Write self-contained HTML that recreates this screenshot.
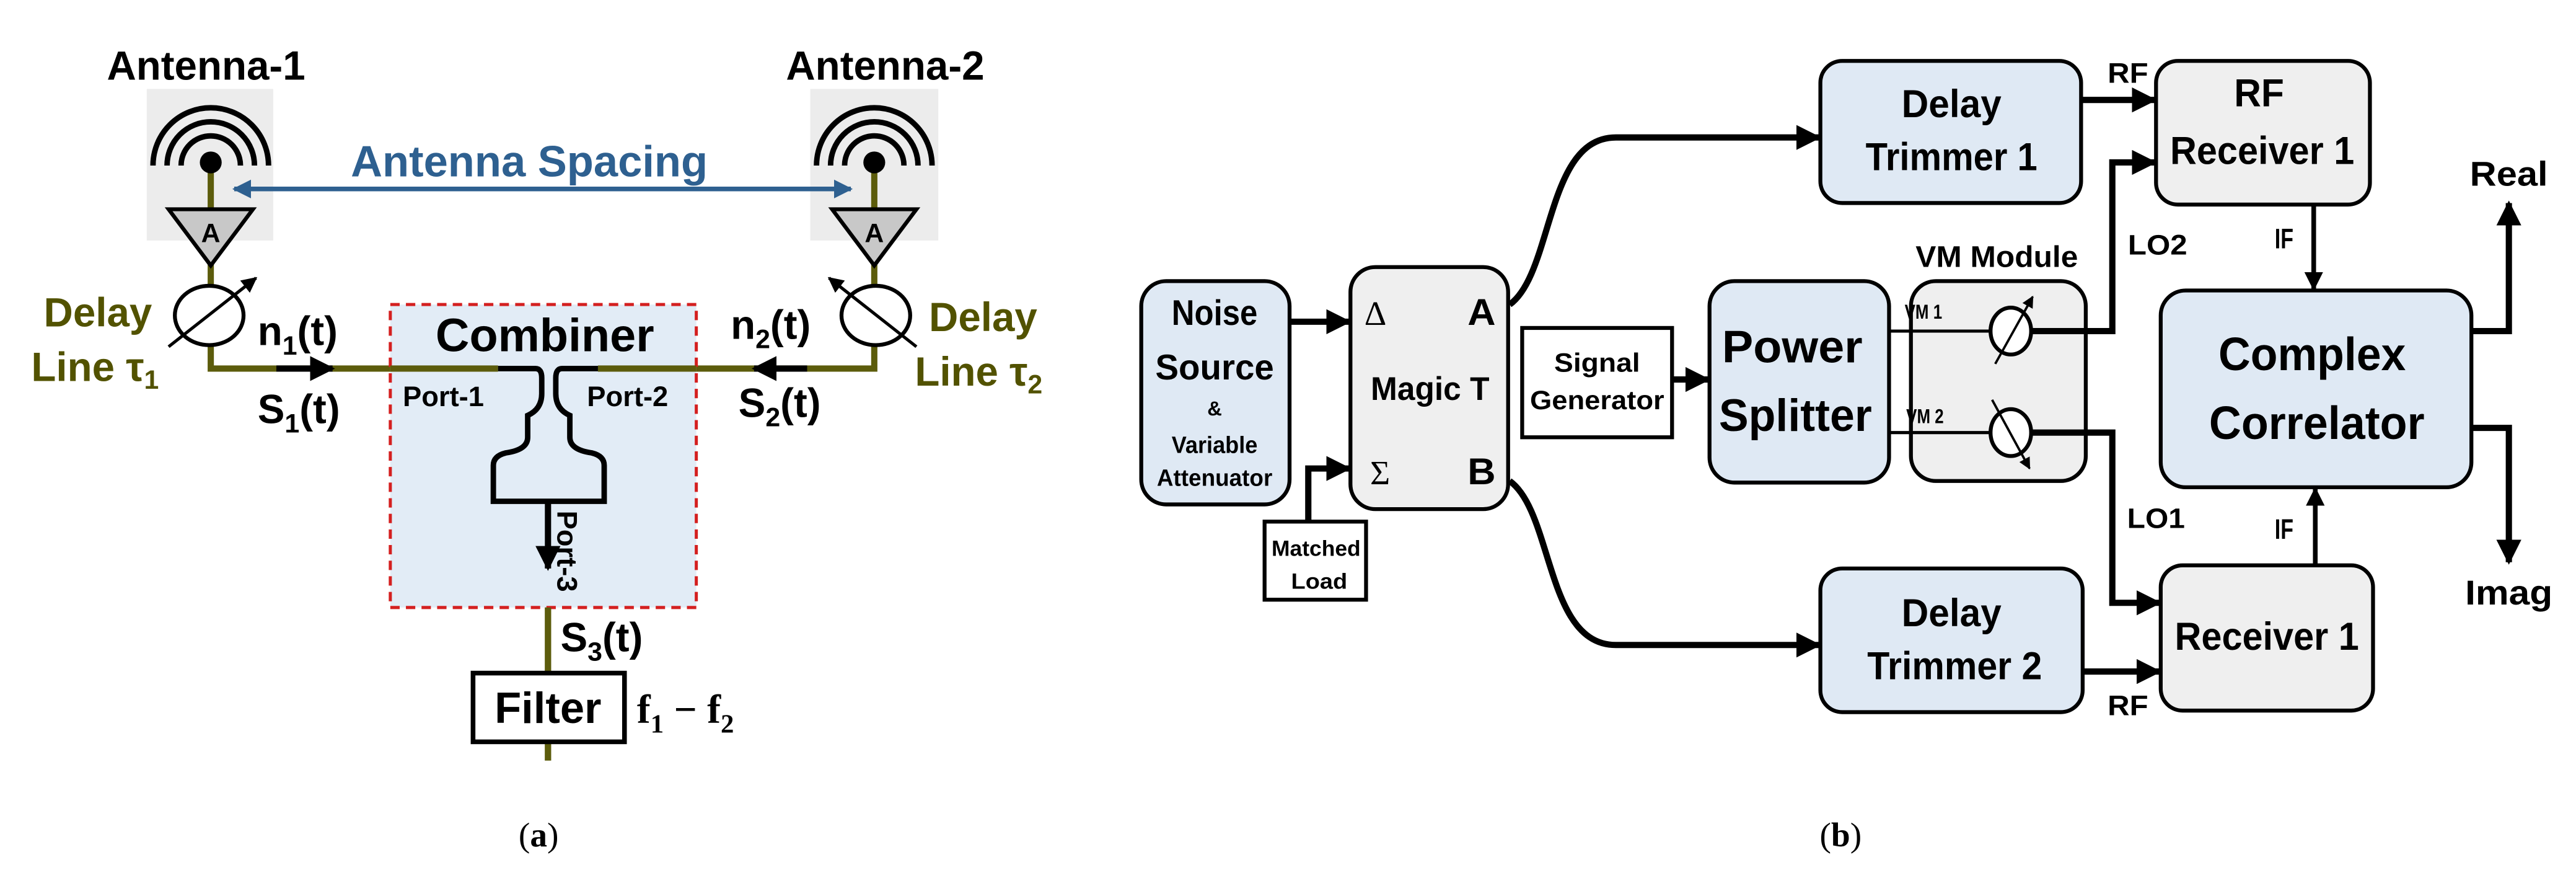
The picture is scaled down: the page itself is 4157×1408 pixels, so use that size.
<!DOCTYPE html>
<html><head><meta charset="utf-8"><style>
html,body{margin:0;padding:0;background:#fff;}
svg{display:block;}
text{font-family:"Liberation Sans",Arial,sans-serif;}
.b{font-weight:bold;}
.ol{fill:#525200;}
</style></head><body>
<svg width="4157" height="1408" viewBox="0 0 1650 559" preserveAspectRatio="none" xmlns="http://www.w3.org/2000/svg">
<defs>
<marker id="ah" viewBox="0 0 10 10" refX="9" refY="5" markerWidth="4" markerHeight="4" orient="auto" markerUnits="strokeWidth"><path d="M0,0 L10,5 L0,10 z" fill="#000"/></marker>
<marker id="ahb" viewBox="0 0 10 10" refX="9" refY="5" markerWidth="4" markerHeight="4" orient="auto-start-reverse" markerUnits="strokeWidth"><path d="M0,0 L10,5 L0,10 z" fill="#2e6090"/></marker>
<marker id="as" viewBox="0 0 10 10" refX="9" refY="5" markerWidth="5" markerHeight="5" orient="auto" markerUnits="strokeWidth"><path d="M0,0 L10,5 L0,10 z" fill="#000"/></marker>
</defs>

<!-- ===== Panel (a) ===== -->
<text x="132" y="51" class="b" font-size="26" text-anchor="middle">Antenna-1</text>
<text x="567" y="51" class="b" font-size="26" text-anchor="middle">Antenna-2</text>

<rect x="94" y="57" width="81" height="97" fill="#ececec"/>
<rect x="519" y="57" width="82" height="97" fill="#ececec"/>

<g fill="none" stroke="#000" stroke-width="3.5">
<path d="M116,106 A19,19 0 0 1 154,106"/>
<path d="M107,106 A28,28 0 0 1 163,106"/>
<path d="M98,106 A37,37 0 0 1 172,106"/>
<path d="M541,106 A19,19 0 0 1 579,106"/>
<path d="M532,106 A28,28 0 0 1 588,106"/>
<path d="M523,106 A37,37 0 0 1 597,106"/>
</g>

<g stroke="#5c5c0c" stroke-width="4" fill="none">
<path d="M135,104 V236 H319"/>
<path d="M560,104 V236 H383"/>
<path d="M351,321 V487"/>
</g>
<circle cx="135" cy="104" r="7" fill="#000"/>
<circle cx="560" cy="104" r="7" fill="#000"/>

<path d="M108,134 H162 L135,170 Z" fill="#c8c8c8" stroke="#000" stroke-width="2.5"/>
<text x="135" y="155" class="b" font-size="17" text-anchor="middle">A</text>
<path d="M533,134 H587 L560,170 Z" fill="#c8c8c8" stroke="#000" stroke-width="2.5"/>
<text x="560" y="155" class="b" font-size="17" text-anchor="middle">A</text>

<ellipse cx="134" cy="202" rx="22" ry="19" fill="#fff" stroke="#000" stroke-width="2.5"/>
<line x1="108" y1="222" x2="164" y2="178" stroke="#000" stroke-width="2" marker-end="url(#as)"/>
<ellipse cx="561" cy="202" rx="22" ry="19" fill="#fff" stroke="#000" stroke-width="2.5"/>
<line x1="587" y1="222" x2="531" y2="178" stroke="#000" stroke-width="2" marker-end="url(#as)"/>

<text x="28" y="209" class="b ol" font-size="26">Delay</text>
<text x="20" y="244" class="b ol" font-size="26">Line τ<tspan font-size="17" dy="5">1</tspan></text>
<text x="595" y="212" class="b ol" font-size="26">Delay</text>
<text x="586" y="247" class="b ol" font-size="26">Line τ<tspan font-size="17" dy="5">2</tspan></text>

<line x1="150" y1="121" x2="545" y2="121" stroke="#2e6090" stroke-width="3" marker-start="url(#ahb)" marker-end="url(#ahb)"/>
<text x="339" y="113" class="b" font-size="28" fill="#2e6090" text-anchor="middle">Antenna Spacing</text>

<rect x="250" y="195" width="196" height="194" fill="#e2ecf6" stroke="#d42020" stroke-width="2" stroke-dasharray="6,4"/>
<g stroke="#5c5c0c" stroke-width="4" fill="none"><path d="M250,236 H319"/><path d="M446,236 H383"/><path d="M351,389 V487"/></g>
<text x="349" y="225" class="b" font-size="30" text-anchor="middle">Combiner</text>
<text x="258" y="260" class="b" font-size="18">Port-1</text>
<text x="376" y="260" class="b" font-size="18">Port-2</text>
<path d="M319,236 H343 Q347,236 347,242 V252 Q347,262 338,266 V280 Q338,288 324,290 Q316,292 316,298 V321 H387 V298 Q387,292 379,290 Q365,288 365,280 V266 Q356,262 356,252 V242 Q356,236 360,236 H383" fill="none" stroke="#000" stroke-width="3.5"/>
<line x1="351" y1="321" x2="351" y2="364" stroke="#000" stroke-width="4" marker-end="url(#ah)"/>
<text transform="translate(357,327) rotate(90)" class="b" font-size="18">Port-3</text>

<line x1="177" y1="236" x2="213" y2="236" stroke="#000" stroke-width="4" marker-end="url(#ah)"/>
<line x1="517" y1="236" x2="483" y2="236" stroke="#000" stroke-width="4" marker-end="url(#ah)"/>

<text x="165" y="221" class="b" font-size="26">n<tspan font-size="17" dy="6">1</tspan><tspan dy="-6">(t)</tspan></text>
<text x="165" y="271" class="b" font-size="26">S<tspan font-size="17" dy="6">1</tspan><tspan dy="-6">(t)</tspan></text>
<text x="468" y="217" class="b" font-size="26">n<tspan font-size="17" dy="6">2</tspan><tspan dy="-6">(t)</tspan></text>
<text x="473" y="267" class="b" font-size="26">S<tspan font-size="17" dy="6">2</tspan><tspan dy="-6">(t)</tspan></text>
<text x="359" y="417" class="b" font-size="26">S<tspan font-size="17" dy="6">3</tspan><tspan dy="-6">(t)</tspan></text>

<rect x="303" y="431" width="97" height="44" fill="#fff" stroke="#000" stroke-width="3"/>
<text x="351" y="463" class="b" font-size="28" text-anchor="middle">Filter</text>
<text x="408" y="463" font-size="26" font-weight="bold" style="font-family:'Liberation Serif',serif">f<tspan font-size="17" dy="6">1</tspan><tspan dy="-6"> − f</tspan><tspan font-size="17" dy="6">2</tspan></text>

<text x="345" y="542" font-size="22" text-anchor="middle" style="font-family:'Liberation Serif',serif">(<tspan font-weight="bold">a</tspan>)</text>

<!-- ===== Panel (b) ===== -->
<g stroke="#000" stroke-width="2.5">
<rect x="731" y="180" width="95" height="143" rx="16" fill="#dfe9f4"/>
<rect x="865" y="171" width="101" height="155" rx="16" fill="#efefef"/>
<rect x="1166" y="39" width="167" height="91" rx="14" fill="#dfe9f4"/>
<rect x="1381" y="39" width="137" height="92" rx="14" fill="#efefef"/>
<rect x="1095" y="180" width="115" height="129" rx="16" fill="#dfe9f4"/>
<rect x="1224" y="180" width="112" height="128" rx="16" fill="#efefef"/>
<rect x="1384" y="186" width="199" height="126" rx="16" fill="#dfe9f4"/>
<rect x="1166" y="364" width="168" height="92" rx="14" fill="#dfe9f4"/>
<rect x="1384" y="362" width="136" height="93" rx="14" fill="#efefef"/>
<rect x="975" y="210" width="96" height="70" fill="#fff"/>
<rect x="810" y="334" width="65" height="50" fill="#fff"/>
</g>

<g font-size="19" text-anchor="middle" font-weight="bold">
<text x="778" y="208" font-size="23" textLength="55" lengthAdjust="spacingAndGlyphs">Noise</text>
<text x="778" y="243" font-size="23" textLength="76" lengthAdjust="spacingAndGlyphs">Source</text>
<text x="778" y="266" font-size="13">&amp;</text>
<text x="778" y="290" font-size="15" textLength="55" lengthAdjust="spacingAndGlyphs">Variable</text>
<text x="778" y="311" font-size="15" textLength="74" lengthAdjust="spacingAndGlyphs">Attenuator</text>
<text x="916" y="256" font-size="21" textLength="76" lengthAdjust="spacingAndGlyphs">Magic T</text>
<text x="881" y="208" font-size="22" font-weight="normal" style="font-family:'Liberation Serif',serif">Δ</text>
<text x="949" y="208" font-size="24" textLength="18" lengthAdjust="spacingAndGlyphs">A</text>
<text x="884" y="310" font-size="22" font-weight="normal" style="font-family:'Liberation Serif',serif">Σ</text>
<text x="949" y="310" font-size="24" textLength="18" lengthAdjust="spacingAndGlyphs">B</text>
<text x="843" y="356" font-size="14" textLength="57" lengthAdjust="spacingAndGlyphs">Matched</text>
<text x="845" y="377" font-size="14" textLength="36" lengthAdjust="spacingAndGlyphs">Load</text>
<text x="1023" y="238" font-size="17" textLength="55" lengthAdjust="spacingAndGlyphs">Signal</text>
<text x="1023" y="262" font-size="17" textLength="86" lengthAdjust="spacingAndGlyphs">Generator</text>
<text x="1148" y="232" font-size="29" textLength="90" lengthAdjust="spacingAndGlyphs">Power</text>
<text x="1150" y="276" font-size="29" textLength="98" lengthAdjust="spacingAndGlyphs">Splitter</text>
<text x="1250" y="75" font-size="25" textLength="64" lengthAdjust="spacingAndGlyphs">Delay</text>
<text x="1250" y="109" font-size="25" textLength="110" lengthAdjust="spacingAndGlyphs">Trimmer 1</text>
<text x="1250" y="401" font-size="25" textLength="64" lengthAdjust="spacingAndGlyphs">Delay</text>
<text x="1252" y="435" font-size="25" textLength="112" lengthAdjust="spacingAndGlyphs">Trimmer 2</text>
<text x="1447" y="68" font-size="25" textLength="32" lengthAdjust="spacingAndGlyphs">RF</text>
<text x="1449" y="105" font-size="25" textLength="118" lengthAdjust="spacingAndGlyphs">Receiver 1</text>
<text x="1452" y="416" font-size="25" textLength="118" lengthAdjust="spacingAndGlyphs">Receiver 1</text>
<text x="1481" y="237" font-size="30" textLength="120" lengthAdjust="spacingAndGlyphs">Complex</text>
<text x="1484" y="281" font-size="30" textLength="138" lengthAdjust="spacingAndGlyphs">Correlator</text>
<text x="1279" y="171" font-size="19" textLength="104" lengthAdjust="spacingAndGlyphs">VM Module</text>
<text x="1607" y="119" font-size="22" textLength="50" lengthAdjust="spacingAndGlyphs">Real</text>
<text x="1607" y="387" font-size="22" textLength="56" lengthAdjust="spacingAndGlyphs">Imag</text>
<text x="1363" y="53" font-size="18" textLength="26" lengthAdjust="spacingAndGlyphs">RF</text>
<text x="1363" y="458" font-size="18" textLength="26" lengthAdjust="spacingAndGlyphs">RF</text>
<text x="1382" y="163" font-size="18" textLength="38" lengthAdjust="spacingAndGlyphs">LO2</text>
<text x="1381" y="338" font-size="18" textLength="37" lengthAdjust="spacingAndGlyphs">LO1</text>
<text x="1463" y="159" font-size="18" textLength="12" lengthAdjust="spacingAndGlyphs">IF</text>
<text x="1463" y="345" font-size="18" textLength="12" lengthAdjust="spacingAndGlyphs">IF</text>
<text x="1232" y="204" font-size="13" textLength="24" lengthAdjust="spacingAndGlyphs">VM 1</text>
<text x="1233" y="271" font-size="13" textLength="24" lengthAdjust="spacingAndGlyphs">VM 2</text>
</g>

<g fill="none" stroke="#000" stroke-width="4">
<line x1="826" y1="206" x2="864" y2="206" marker-end="url(#ah)"/>
<path d="M838,334 V300 H864" marker-end="url(#ah)"/>
<line x1="1071" y1="243" x2="1094" y2="243" marker-end="url(#ah)"/>
<path d="M967,195 C995,175 990,88 1035,88 H1165" marker-end="url(#ah)"/>
<path d="M967,308 C995,328 990,413 1035,413 H1165" marker-end="url(#ah)"/>
<line x1="1333" y1="64" x2="1380" y2="64" marker-end="url(#ah)"/>
<line x1="1334" y1="430" x2="1383" y2="430" marker-end="url(#ah)"/>
<path d="M1300,212 H1353 V104 H1380" marker-end="url(#ah)"/>
<path d="M1300,277 H1353 V386 H1383" marker-end="url(#ah)"/>
<line x1="1482" y1="131" x2="1482" y2="185" stroke-width="3" marker-end="url(#ah)"/>
<line x1="1483" y1="362" x2="1483" y2="313" stroke-width="3" marker-end="url(#ah)"/>
<path d="M1583,212 H1607 V130" marker-end="url(#ah)"/>
<path d="M1583,274 H1607 V360" marker-end="url(#ah)"/>
</g>
<g stroke="#000" stroke-width="2" fill="none">
<line x1="1210" y1="212" x2="1276" y2="212"/>
<line x1="1210" y1="277" x2="1276" y2="277"/>
</g>
<ellipse cx="1288" cy="212" rx="13" ry="15" fill="#fff" stroke="#000" stroke-width="2.5"/>
<line x1="1278" y1="233" x2="1302" y2="190" stroke="#000" stroke-width="1.5" marker-end="url(#as)"/>
<ellipse cx="1288" cy="277" rx="13" ry="15" fill="#fff" stroke="#000" stroke-width="2.5"/>
<line x1="1276" y1="256" x2="1300" y2="300" stroke="#000" stroke-width="1.5" marker-end="url(#as)"/>

<text x="1179" y="542" font-size="22" text-anchor="middle" style="font-family:'Liberation Serif',serif">(<tspan font-weight="bold">b</tspan>)</text>
</svg>
</body></html>
